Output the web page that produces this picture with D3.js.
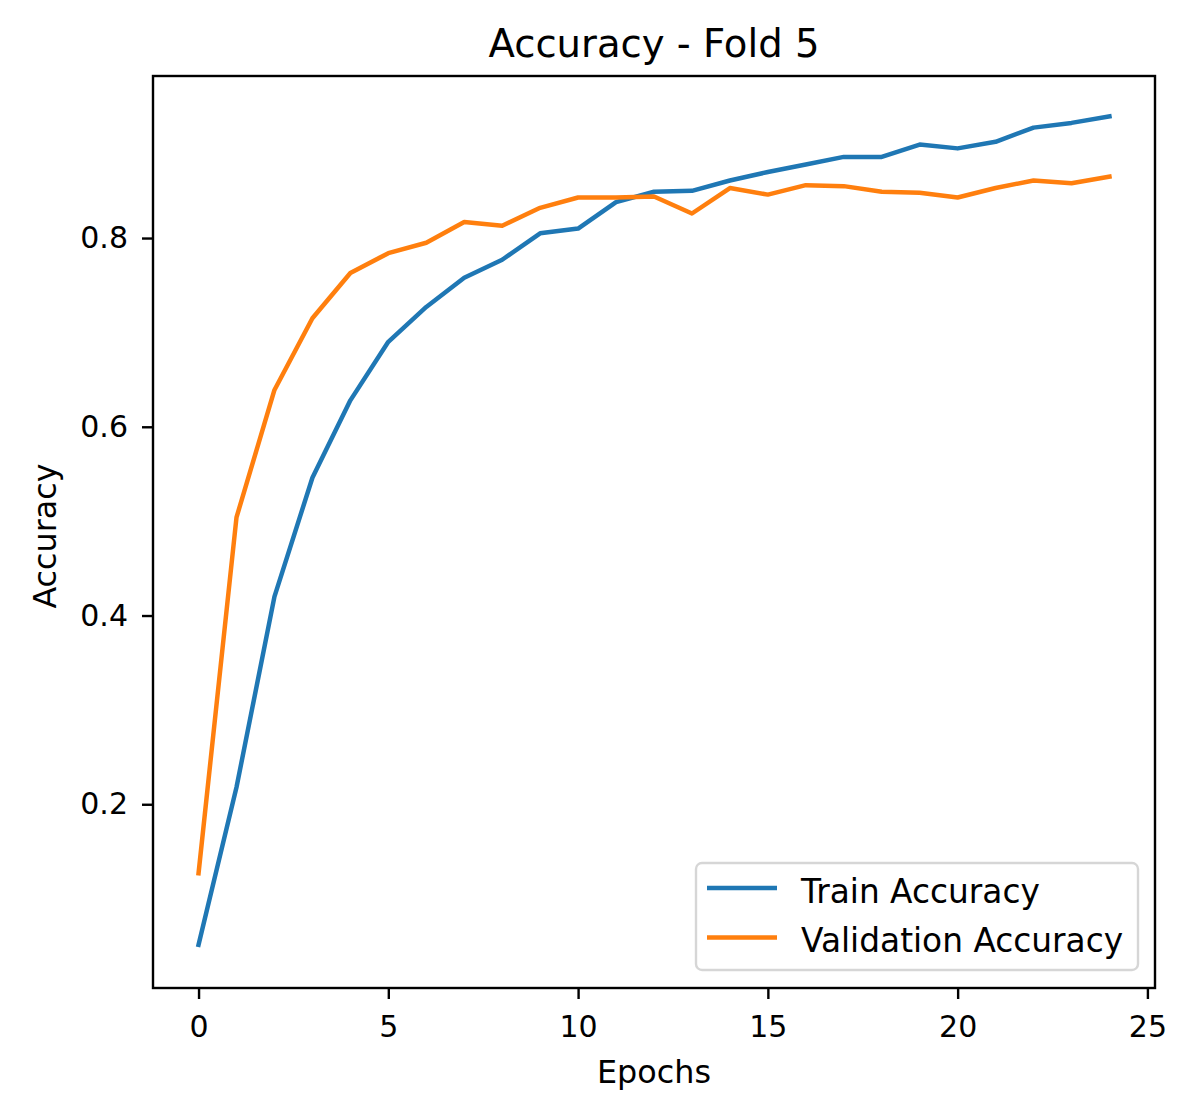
<!DOCTYPE html>
<html>
<head>
<meta charset="utf-8">
<script src="https://cdn.jsdelivr.net/npm/d3@7"></script>
<style>
  body { margin: 0; background: #fff; }
  text { font-family: "DejaVu Sans", sans-serif; fill: #000; }
</style>
</head>
<body>
<div id="chart"></div>
<script>
var epochs = d3.range(0, 25);
var trainAcc = [0.051, 0.218, 0.420, 0.546, 0.628, 0.690, 0.727, 0.758, 0.777, 0.805,
                0.810, 0.838, 0.849, 0.850, 0.861, 0.870, 0.878, 0.886, 0.886, 0.899,
                0.895, 0.902, 0.917, 0.922, 0.929];
var valAcc = [0.127, 0.504, 0.639, 0.715, 0.763, 0.784, 0.795, 0.817, 0.813, 0.832,
              0.843, 0.843, 0.844, 0.826, 0.853, 0.846, 0.856, 0.855, 0.849, 0.848,
              0.843, 0.853, 0.861, 0.858, 0.865];
var xTicks = [0, 5, 10, 15, 20, 25];
var yTicks = [0.2, 0.4, 0.6, 0.8];
var seriesNames = ["Train Accuracy", "Validation Accuracy"];
var seriesColors = ["#1f77b4", "#ff7f0e"];

var width = 1200, height = 1113;
var plotL = 153, plotR = 1155, plotT = 76, plotB = 988;

var svg = d3.select("#chart").append("svg")
  .attr("width", width)
  .attr("height", height);

var x = d3.scaleLinear().domain([-1.2, 25.2]).range([plotL, plotR]);
var y = d3.scaleLinear().domain([0.0053, 0.9717]).range([plotB, plotT]);

// axes
var xAxis = svg.append("g")
  .attr("transform", "translate(0," + plotB + ")")
  .call(d3.axisBottom(x).tickValues(xTicks).tickSize(11).tickPadding(16.5).tickFormat(d3.format("d")));
var yAxis = svg.append("g")
  .attr("transform", "translate(" + plotL + ",0)")
  .call(d3.axisLeft(y).tickValues(yTicks).tickSize(11).tickPadding(14).tickFormat(d3.format(".1f")));

[xAxis, yAxis].forEach(function (g) {
  g.select(".domain").remove();
  g.selectAll(".tick line").attr("stroke", "#000").attr("stroke-width", 2.4);
  g.selectAll(".tick text").attr("font-size", 30).attr("font-family", "DejaVu Sans").attr("fill", "#000");
});

// lines
var line = d3.line()
  .x(function (d, i) { return x(epochs[i]); })
  .y(function (d) { return y(d); });

[trainAcc, valAcc].forEach(function (s, k) {
  svg.append("path")
    .datum(s)
    .attr("fill", "none")
    .attr("stroke", seriesColors[k])
    .attr("stroke-width", 4.5)
    .attr("stroke-linejoin", "round")
    .attr("stroke-linecap", "square")
    .attr("d", line);
});

// frame
svg.append("rect")
  .attr("x", plotL).attr("y", plotT)
  .attr("width", plotR - plotL).attr("height", plotB - plotT)
  .attr("fill", "none").attr("stroke", "#000").attr("stroke-width", 2.4);

// title & labels
svg.append("text")
  .attr("x", (plotL + plotR) / 2).attr("y", 57)
  .attr("text-anchor", "middle").attr("font-size", 38.6)
  .text("Accuracy - Fold 5");

svg.append("text")
  .attr("x", (plotL + plotR) / 2).attr("y", 1083)
  .attr("text-anchor", "middle").attr("font-size", 31.8)
  .text("Epochs");

svg.append("text")
  .attr("transform", "translate(56," + ((plotT + plotB) / 2 + 4) + ") rotate(-90)")
  .attr("text-anchor", "middle").attr("font-size", 31.8)
  .text("Accuracy");

// legend
var legend = svg.append("g");
legend.append("rect")
  .attr("x", 696).attr("y", 863)
  .attr("width", 442).attr("height", 107)
  .attr("rx", 6).attr("ry", 6)
  .attr("fill", "#fff").attr("fill-opacity", 0.8)
  .attr("stroke", "#d6d6d6").attr("stroke-width", 2.4);

seriesNames.forEach(function (name, k) {
  var cy = 888 + k * 49.5;
  legend.append("line")
    .attr("x1", 707).attr("x2", 777)
    .attr("y1", cy).attr("y2", cy)
    .attr("stroke", seriesColors[k]).attr("stroke-width", 4.5);
  legend.append("text")
    .attr("x", 801).attr("y", cy + 14.5)
    .attr("font-size", 32.8)
    .text(name);
});
</script>
</body>
</html>
